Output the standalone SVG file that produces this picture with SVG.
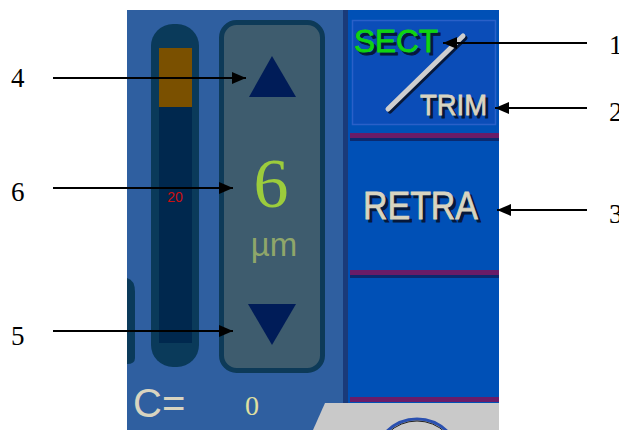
<svg xmlns="http://www.w3.org/2000/svg" width="619" height="430" viewBox="0 0 619 430">
<defs>
<style>
.lbl{font-family:"Liberation Serif","Times New Roman",serif;font-size:27px;fill:#000}
.sans{font-family:"Liberation Sans",Arial,sans-serif}
.conn line{stroke:#000;stroke-width:2}
.purple{fill:#6a1c68}
.shadowline{fill:#0a2a70}
</style>
<marker id="ah" viewBox="0 0 14 12" refX="14" refY="6" markerWidth="14" markerHeight="12" markerUnits="userSpaceOnUse" orient="auto">
<path d="M0,0 L14,6 L0,12 Z" fill="#000"/>
</marker>
</defs>
<rect width="619" height="430" fill="#fff"/>
<g id="screen">
<rect x="127" y="10" width="218" height="420" fill="#2f5fa0"/>
<path d="M127,278 Q135,280 135,292 L135,358 Q135,364 127,364 Z" fill="#0a3a5a"/>
</g>
<g id="bar">
<rect x="151" y="24" width="48" height="343" rx="22" fill="#0a3a5a"/>
<rect x="159" y="48" width="33" height="295" fill="#00284e"/>
<rect x="159" y="48" width="33" height="59" fill="#7a5000"/>
<text x="175" y="202" class="sans" font-size="14" fill="#cc1010" text-anchor="middle">20</text>
</g>
<g id="panel">
<rect x="221.5" y="22.5" width="101" height="348" rx="15" fill="#3e5c6e" stroke="#0d3a58" stroke-width="5"/>
</g>
<g id="up">
<polygon points="272,56 296,97 249,97" fill="#001c58"/>
</g>
<g id="value">
<text x="271" y="207" font-family="Liberation Serif,Times New Roman,serif" font-size="70" fill="#9ccc3c" text-anchor="middle">6</text>
<text x="274" y="256" class="sans" font-size="33" fill="#8fa66a" text-anchor="middle">µm</text>
</g>
<g id="down">
<polygon points="248,304 296,304 272,345" fill="#001c58"/>
</g>
<g id="cval">
<text x="133" y="417" class="sans" font-size="40" fill="#d8d4c0">C=</text>
<text x="252" y="415" font-family="Liberation Serif,Times New Roman,serif" font-size="28" fill="#e0e0a0" text-anchor="middle">0</text>
</g>
<g id="rightpanel">
<rect x="343" y="10" width="5" height="393" fill="#1a3a7a"/>
<rect x="348" y="10" width="151" height="393" fill="#0050b6"/>
<rect x="352.5" y="20.5" width="143" height="104" fill="#0b4db8" stroke="#2a60c8" stroke-width="1.5"/>
<rect x="350" y="138" width="149" height="3" class="shadowline"/>
<rect x="350" y="133" width="149" height="5" class="purple"/>
<rect x="350" y="275" width="149" height="3" class="shadowline"/>
<rect x="350" y="270" width="149" height="5" class="purple"/>
<rect x="350" y="397" width="149" height="5" class="purple"/>
</g>
<g id="sect">
<text x="357" y="55" class="sans" font-size="31" fill="#06183a" stroke="#06183a" stroke-width="0.8" textLength="84" lengthAdjust="spacingAndGlyphs">SECT</text>
<text x="354" y="52" class="sans" font-size="31" fill="#10d410" stroke="#10d410" stroke-width="0.8" textLength="84" lengthAdjust="spacingAndGlyphs">SECT</text>
<line x1="390" y1="111" x2="465" y2="38" stroke="#06183a" stroke-width="5" stroke-linecap="round"/>
<line x1="388" y1="109" x2="463" y2="36" stroke="#cfcfcf" stroke-width="5" stroke-linecap="round"/>
<text x="423" y="118" class="sans" font-size="30" fill="#06183a" stroke="#06183a" stroke-width="0.8" textLength="67" lengthAdjust="spacingAndGlyphs">TRIM</text>
<text x="420" y="115" class="sans" font-size="30" fill="#d8d4c0" stroke="#d8d4c0" stroke-width="0.8" textLength="67" lengthAdjust="spacingAndGlyphs">TRIM</text>
</g>
<g id="retra">
<text x="366" y="222" class="sans" font-size="38" fill="#06183a" stroke="#06183a" stroke-width="0.8" textLength="115" lengthAdjust="spacingAndGlyphs">RETRA</text>
<text x="363" y="219" class="sans" font-size="38" fill="#d8d4c0" stroke="#d8d4c0" stroke-width="0.8" textLength="115" lengthAdjust="spacingAndGlyphs">RETRA</text>
</g>
<g id="bottom">
<polygon points="325,403 499,403 499,430 313,430" fill="#c9c9c9"/>
<circle cx="417" cy="462" r="43" fill="none" stroke="#2a50b0" stroke-width="3"/>
<circle cx="417" cy="462" r="41" fill="none" stroke="#222" stroke-width="1"/>
</g>
<g class="conn" id="connectors">
<line x1="587" y1="43" x2="443" y2="43" marker-end="url(#ah)"/>
<line x1="587" y1="108" x2="495" y2="108" marker-end="url(#ah)"/>
<line x1="587" y1="210" x2="497" y2="210" marker-end="url(#ah)"/>
<line x1="53" y1="78" x2="246" y2="78" marker-end="url(#ah)"/>
<line x1="53" y1="188" x2="233" y2="188" marker-end="url(#ah)"/>
<line x1="53" y1="331" x2="233" y2="331" marker-end="url(#ah)"/>
</g>
<g id="labels">
<text x="609" y="54" class="lbl">1</text>
<text x="609" y="121" class="lbl">2</text>
<text x="609" y="223" class="lbl">3</text>
<text x="11" y="87" class="lbl">4</text>
<text x="11" y="201" class="lbl">6</text>
<text x="11" y="345" class="lbl">5</text>
</g>
</svg>
